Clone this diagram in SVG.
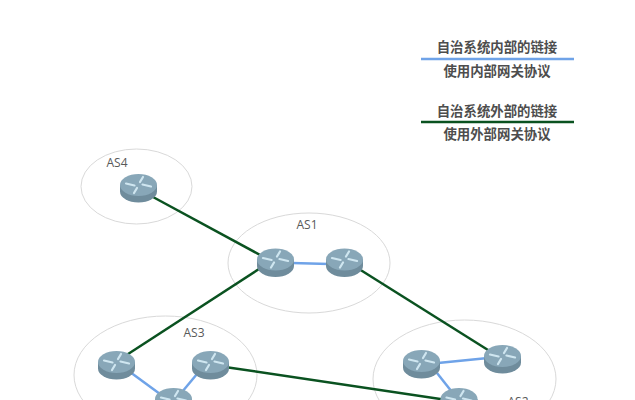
<svg xmlns="http://www.w3.org/2000/svg" width="635" height="400" viewBox="0 0 635 400">
<style>
.as{fill:none;stroke:#d9d9d9;stroke-width:1}
.in{stroke:#6fa3e8;stroke-width:2.5;fill:none}
.ex{stroke:#0a5220;stroke-width:2.5;fill:none}
.lb{font-family:"Open Sans","Liberation Sans",sans-serif;font-size:12px;fill:#595959;text-anchor:middle}
.lg{font-family:"Noto Sans CJK SC",sans-serif;font-size:13.4px;font-weight:700;fill:#4d4d4d;text-anchor:middle}
.ar{stroke:#cfe6f0;stroke-width:2.200;fill:none;stroke-linecap:round}
</style>
<defs>
<g id="r">
<path d="M-18.500 0V6.500A18.500 11 0 0 0 18.500 6.500V0Z" fill="#6f8c9c"/>
<ellipse rx="18.500" ry="11" fill="#88a7b8"/>
<path class="ar" d="M-12.500 -1.500L-4 0.500M12.500 1.500L4 -0.500M4.500 -8L1.500 -3M-4.500 8L-1.500 3"/>
</g>
</defs>
<rect width="635" height="400" fill="#fff"/>
<g id="as-regions">
<ellipse id="region-as4" class="as" cx="136.500" cy="186.500" rx="55.500" ry="37.500"/>
<ellipse id="region-as1" class="as" cx="309" cy="263" rx="81" ry="50"/>
<ellipse id="region-as3" class="as" cx="165.500" cy="375" rx="91.500" ry="59"/>
<ellipse id="region-as2" class="as" cx="464.500" cy="379" rx="91.500" ry="59"/>
</g>
<g id="connectors">
<path class="ex" d="M153 197L262 256"/>
<path class="ex" d="M262 267L125 356"/>
<path class="ex" d="M359 269L488 350"/>
<path class="ex" d="M225 367L447 400"/>
<path class="in" d="M292 263L329 264"/>
<path class="in" d="M130 372L160 394"/>
<path class="in" d="M197 374L182 392"/>
<path class="in" d="M438 363L488 358"/>
<path class="in" d="M437 373L452 392"/>
</g>
<g id="node-as4"><use href="#r" x="138.500" y="185"/><text class="lb" x="117" y="167">AS4</text></g>
<g id="node-as1">
<text class="lb" x="307" y="229">AS1</text>
<use id="r1a" href="#r" x="275.500" y="259.500"/>
<use id="r1b" href="#r" x="344.500" y="259.500"/>
</g>
<g id="node-as3">
<text class="lb" x="194" y="337">AS3</text>
<use id="r3a" href="#r" x="116.500" y="362"/>
<use id="r3b" href="#r" x="210.500" y="362"/>
<use id="r3c" href="#r" x="173.500" y="399"/>
</g>
<g id="node-as2">
<text class="lb" x="518" y="406">AS2</text>
<use id="r2a" href="#r" x="421.500" y="361"/>
<use id="r2b" href="#r" x="502.500" y="356"/>
<use id="r2c" href="#r" x="459" y="399"/>
</g>
<g id="legend">
<text class="lg" x="497" y="52">自治系统内部的链接</text>
<path class="in" d="M421 59H574"/>
<text class="lg" x="497" y="76">使用内部网关协议</text>
<text class="lg" x="497" y="116">自治系统外部的链接</text>
<path class="ex" d="M421 122H574"/>
<text class="lg" x="497" y="139">使用外部网关协议</text>
</g>
</svg>
